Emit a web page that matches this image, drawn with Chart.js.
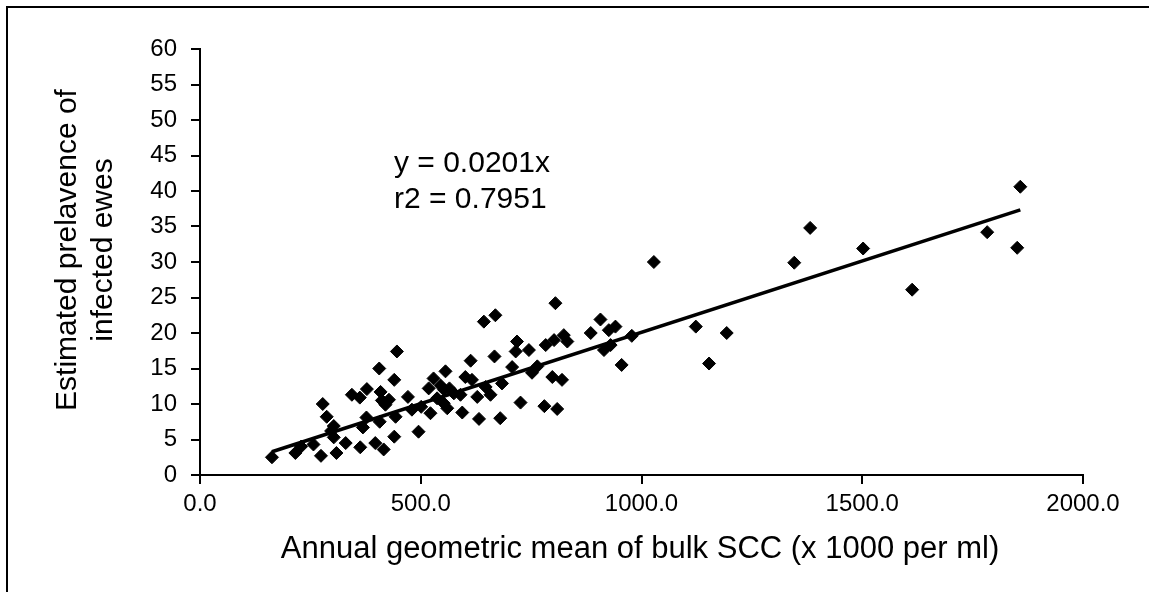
<!DOCTYPE html>
<html>
<head>
<meta charset="utf-8">
<script src="https://cdn.jsdelivr.net/npm/chart.js@4.4.1/dist/chart.umd.min.js"></script>
<style>
html,body{margin:0;padding:0;background:#fff;}
#wrap{position:relative;width:1149px;height:592px;}
</style>
</head>
<body>
<div id="wrap"><canvas id="c"></canvas></div>
<script>
// ---- data ----
const sccX = [163,216,229,257,274,278,287,297,303,303,309,330,344,362,378,363,369,377,397,406,409,412,407,416,420,428,440,446,440,443,
  471,480,495,501,518,522,529,537,545,552,556,553,560,565,575,590,594,601,613,616,628,632,643,647,
  658,667,669,680,684,707,715,718,726,745,752,764,780,783,798,802,805,809,820,824,832,885,907,915,926,930,941,955,978,
  1028,1123,1153,1193,1346,1382,1502,1613,1783,1851,1858];
const prevY = [2.5,3.1,4.0,4.3,2.7,10.0,8.2,6.2,6.9,5.3,3.1,4.5,11.3,10.9,12.1,3.9,6.7,8.1,4.5,15.0,11.7,10.5,7.5,3.6,9.9,10.6,13.4,17.4,5.4,8.2,
  11.0,9.2,6.1,9.6,12.2,8.7,13.6,10.8,12.6,10.1,14.6,12.0,9.4,12.2,11.5,11.3,8.8,13.8,16.1,13.4,11.0,7.9,21.6,12.4,
  11.3,16.7,22.5,8.0,12.9,15.2,17.4,18.8,10.2,17.6,14.4,15.3,9.7,18.3,13.8,19.0,24.2,9.3,13.4,19.7,18.8,20.0,21.9,17.6,20.4,18.3,20.9,15.5,19.6,
  30.0,20.9,15.7,20.0,29.9,34.8,31.9,26.1,34.2,32.0,40.6];
const trendSlope = 0.0201;
const trendText = 'y = 0.0201x';
const r2Text = 'r2 = 0.7951';
const xTicks = [0, 500, 1000, 1500, 2000];
const xTickLabels = ['0.0', '500.0', '1000.0', '1500.0', '2000.0'];
const yTicks = [0, 5, 10, 15, 20, 25, 30, 35, 40, 45, 50, 55, 60];
const yTickLabels = ['0', '5', '10', '15', '20', '25', '30', '35', '40', '45', '50', '55', '60'];
const xTitle = 'Annual geometric mean of bulk SCC (x 1000 per ml)';
const yTitle = ['Estimated prelavence of', 'infected ewes'];

// ---- build ----
const FONT = '"Liberation Sans", Arial, Helvetica, sans-serif';
const points = sccX.map((x, i) => ({ x: x, y: prevY[i] }));
const xMin = Math.min(...sccX), xMax = Math.max(...sccX);
const trend = [{ x: xMin, y: trendSlope * xMin }, { x: xMax, y: trendSlope * xMax }];

const decor = {
  id: 'decor',
  beforeDraw(chart) {
    const ctx = chart.ctx;
    ctx.save();
    ctx.strokeStyle = '#000';
    ctx.lineWidth = 2;
    ctx.beginPath();
    ctx.moveTo(7, 592);
    ctx.lineTo(7, 7);
    ctx.lineTo(1149, 7);
    ctx.stroke();
    ctx.restore();
  },
  afterDraw(chart) {
    const ctx = chart.ctx;
    ctx.save();
    ctx.fillStyle = '#000';
    // annotation
    ctx.font = '30px ' + FONT;
    ctx.textAlign = 'left';
    ctx.textBaseline = 'alphabetic';
    ctx.fillText(trendText, 394, 172);
    ctx.fillText(r2Text, 394, 208);
    // x title
    ctx.font = '31px ' + FONT;
    ctx.textAlign = 'center';
    ctx.fillText(xTitle, 640, 558);
    // y title
    ctx.font = '30px ' + FONT;
    const baseX = [76, 112];
    yTitle.forEach((t, i) => {
      ctx.save();
      ctx.translate(baseX[i], 250);
      ctx.rotate(-Math.PI / 2);
      ctx.textAlign = 'center';
      ctx.fillText(t, 0, 0);
      ctx.restore();
    });
    ctx.restore();
  }
};

const axisCommon = {
  type: 'linear',
  grid: { display: true, drawOnChartArea: false, drawTicks: true, tickLength: 9, color: '#000', lineWidth: 2 },
  border: { display: true, color: '#000', width: 2 },
};

new Chart(document.getElementById('c'), {
  data: {
    datasets: [
      {
        type: 'scatter',
        label: 'Estimated prevalence',
        data: points,
        pointStyle: 'rectRot',
        pointRadius: 6.5,
        pointHoverRadius: 6.5,
        backgroundColor: '#000',
        borderColor: '#000',
        borderWidth: 1,
      },
      {
        type: 'line',
        label: 'Trend',
        data: trend,
        borderColor: '#000',
        borderWidth: 3.5,
        pointRadius: 0,
        fill: false,
        tension: 0,
      }
    ]
  },
  options: {
    responsive: true,
    maintainAspectRatio: false,
    animation: false,
    events: [],
    layout: { padding: { left: 0, top: 49, right: 66, bottom: 0 } },
    plugins: { legend: { display: false }, tooltip: { enabled: false }, title: { display: false } },
    scales: {
      x: Object.assign({}, axisCommon, {
        min: 0, max: 2000,
        afterBuildTicks: s => { s.ticks = xTicks.map(v => ({ value: v })); },
        afterFit: s => { s.height = 117; },
        ticks: {
          autoSkip: false, maxRotation: 0, padding: 6, color: '#000',
          font: { family: FONT, size: 24 },
          callback: v => xTickLabels[xTicks.indexOf(v)]
        }
      }),
      y: Object.assign({}, axisCommon, {
        min: 0, max: 60,
        afterBuildTicks: s => { s.ticks = yTicks.map(v => ({ value: v })); },
        afterFit: s => { s.width = 200; },
        ticks: {
          autoSkip: false, padding: 14, color: '#000',
          font: { family: FONT, size: 24 },
          callback: v => yTickLabels[yTicks.indexOf(v)]
        }
      })
    }
  },
  plugins: [decor]
});
</script>
</body>
</html>
